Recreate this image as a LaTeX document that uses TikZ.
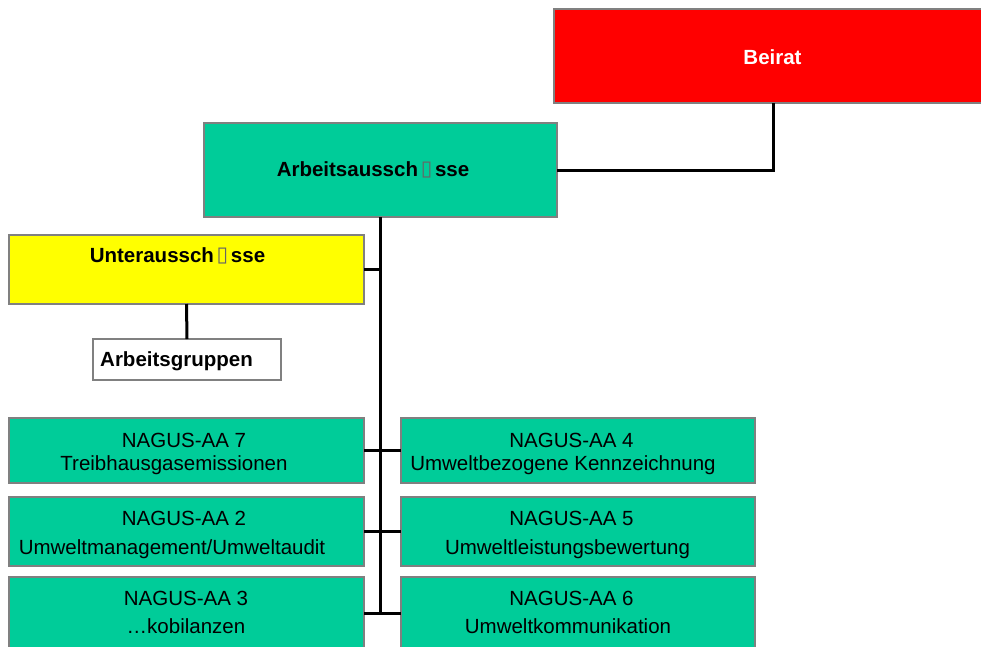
\documentclass[tikz,border=0pt]{standalone}
\usepackage{fontspec}
\setmainfont{Liberation Sans}
\newfontfamily\symfont{DejaVu Sans}
\definecolor{nagusgreen}{HTML}{00CC99}
\definecolor{boxgray}{HTML}{808080}
\definecolor{beiratred}{HTML}{FF0000}
\definecolor{unteryellow}{HTML}{FFFF00}
\newcommand{\missglyph}{\makebox[17pt]{\symfont\fontsize{21}{21}\selectfont\color{black!60}\raisebox{1pt}{▯}}}
\begin{document}
\begin{tikzpicture}[x=1pt,y=-1pt,
  orgbox/.style={draw=boxgray, line width=2.8pt, rectangle, inner sep=0pt, outer sep=0pt, anchor=north west},
  conn/.style={line width=3pt, black},
  txt/.style={anchor=base, inner sep=0pt, font=\fontsize{20.5}{23}\selectfont},
  btxt/.style={txt, font=\fontsize{20.5}{23}\selectfont\bfseries}
]
\useasboundingbox (0,0) rectangle (981,646);
\clip (0,0) rectangle (981,646);

% boxes
\node[orgbox, fill=beiratred, minimum width=438pt, minimum height=94pt] (beirat) at (554,9) {};
\node[orgbox, fill=nagusgreen, minimum width=353pt, minimum height=94pt] (arbeits) at (204,123) {};
\node[orgbox, fill=unteryellow, minimum width=355pt, minimum height=69pt] (unter) at (9,235) {};
\node[orgbox, fill=white, minimum width=188pt, minimum height=41pt] (ag) at (93,339) {};

\node[orgbox, fill=nagusgreen, minimum width=355pt, minimum height=65pt] (l7) at (9,418) {};
\node[orgbox, fill=nagusgreen, minimum width=355pt, minimum height=69pt] (l2) at (9,497) {};
\node[orgbox, fill=nagusgreen, minimum width=355pt, minimum height=72pt] (l3) at (9,577) {};
\node[orgbox, fill=nagusgreen, minimum width=354pt, minimum height=65pt] (r4) at (401,418) {};
\node[orgbox, fill=nagusgreen, minimum width=354pt, minimum height=69pt] (r5) at (401,497) {};
\node[orgbox, fill=nagusgreen, minimum width=354pt, minimum height=72pt] (r6) at (401,577) {};

% connectors
\coordinate (trunkend) at (381,613);
\draw[conn] (beirat.south) |- (arbeits.east);
\draw[conn] (arbeits.south) -- (arbeits.south |- trunkend);
\draw[conn] (unter.east) -- (unter.east -| arbeits.south);
\draw[conn] (unter.south) -- (ag.north);
\draw[conn] (l7.east) -- (r4.west);
\draw[conn] (l2.east) -- (r5.west);
\draw[conn] (l3.east |- trunkend) -- (r6.west |- trunkend);

% texts
\node[btxt, text=white] (tbeirat) at (772.5,64) {Beirat};
\node[btxt] (tarbeits) at (373,176) {Arbeitsaussch\missglyph sse};
\node[btxt] (tunter) at (177.5,262) {Unteraussch\missglyph sse};
\node[btxt, anchor=base west] (tag) at (100,366) {Arbeitsgruppen};

\node[txt] (t7a) at (184,447) {NAGUS-AA 7};
\node[txt] (t7b) at (174,470) {Treibhausgasemissionen};
\node[txt] (t2a) at (184,525) {NAGUS-AA 2};
\node[txt] (t2b) at (172,554) {Umweltmanagement/Umweltaudit};
\node[txt] (t3a) at (186,605) {NAGUS-AA 3};
\node[txt] (t3b) at (186,633) {…kobilanzen};

\node[txt] (t4a) at (571.5,447) {NAGUS-AA 4};
\node[txt] (t4b) at (563,470) {Umweltbezogene Kennzeichnung};
\node[txt] (t5a) at (571.5,525) {NAGUS-AA 5};
\node[txt] (t5b) at (567.5,554) {Umweltleistungsbewertung};
\node[txt] (t6a) at (571.5,605) {NAGUS-AA 6};
\node[txt] (t6b) at (568,633) {Umweltkommunikation};
\end{tikzpicture}
\end{document}
